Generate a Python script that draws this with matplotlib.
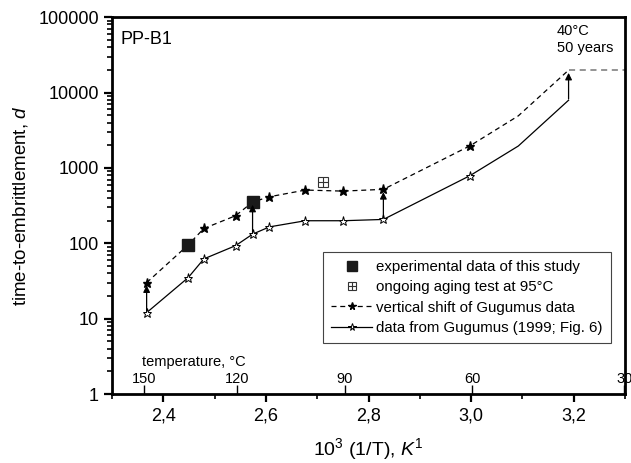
import numpy as np
import matplotlib
matplotlib.use("Agg")
import matplotlib.pyplot as plt
from matplotlib.legend_handler import HandlerTuple

plt.rcParams["font.family"] = ["Liberation Sans", "DejaVu Sans"]
plt.rcParams["mathtext.fontset"] = "custom"
plt.rcParams["mathtext.rm"] = "Liberation Sans"
plt.rcParams["mathtext.it"] = "Liberation Sans:italic"

# data (x = 10^3/T in 1/K, y = days)
x_gug = [2.3675, 2.4485, 2.479, 2.541, 2.574, 2.607, 2.677, 2.750, 2.829, 2.998, 3.092, 3.190]
y_gug = [12, 35, 62, 93, 132, 165, 199, 199, 207, 790, 1950, 7900]
gug_marks = [0, 1, 2, 3, 4, 5, 6, 7, 8, 9]

x_shift = [2.3675, 2.4485, 2.479, 2.541, 2.574, 2.607, 2.677, 2.750, 2.829, 2.998, 3.092, 3.190]
y_shift = [30, 95, 157, 232, 352, 414, 508, 492, 519, 1965, 4900, 19800]
shift_marks = [0, 2, 3, 5, 6, 7, 8, 9]

x_exp = [2.4485, 2.574]
y_exp = [95, 352]

x_ongoing = [2.711]
y_ongoing = [654]

x_plateau = [3.190, 3.30]
y_plateau = [19800, 19800]

arrow_idx = [0, 4, 8, 11]

temps_c = [150, 120, 90, 60, 30]


def main():
    fig = plt.figure(figsize=(6.31, 4.63), dpi=100)
    ax = fig.add_axes([0.1775, 0.149, 0.813, 0.814])

    ax.plot(x_plateau, y_plateau, ls=(0, (4, 3)), color="#777777", lw=1.1)
    h_gug, = ax.plot(x_gug, y_gug, "-", color="k", lw=0.9, marker="*", ms=6.5,
                     mfc="white", mec="k", mew=0.7, markevery=gug_marks)
    h_shift, = ax.plot(x_shift, y_shift, ls=(0, (4, 3)), color="k", lw=0.9,
                       marker="*", ms=6.5, mfc="k", mec="k", markevery=shift_marks)
    h_exp, = ax.plot(x_exp, y_exp, "s", color="#1a1a1a", ms=8.5)
    h_on1, = ax.plot(x_ongoing, y_ongoing, "s", mfc="white", mec="#333333", ms=7.5, mew=0.8)
    h_on2, = ax.plot(x_ongoing, y_ongoing, "+", color="#333333", ms=7.5, mew=0.8)

    for i in arrow_idx:
        ax.annotate("", xy=(x_shift[i], y_shift[i] * 0.92), xytext=(x_gug[i], y_gug[i] * 1.04),
                    arrowprops=dict(arrowstyle="-|>", color="k", lw=0.9,
                                    mutation_scale=10, shrinkA=0, shrinkB=0))

    ax.set_yscale("log")
    ax.set_xlim(2.3, 3.3)
    ax.set_ylim(1, 100000)
    ax.set_xticks([2.4, 2.6, 2.8, 3.0, 3.2])
    ax.set_xticklabels(["2,4", "2,6", "2,8", "3,0", "3,2"])
    ax.set_xticks([2.3, 2.5, 2.7, 2.9, 3.1, 3.3], minor=True)
    ax.set_yticks([1, 10, 100, 1000, 10000, 100000])
    ax.set_yticklabels(["1", "10", "100", "1000", "10000", "100000"])

    for s in ax.spines.values():
        s.set_linewidth(2)
    ax.tick_params(which="major", direction="out", length=6, width=1.6, labelsize=13,
                   top=False, right=False)
    ax.tick_params(which="minor", direction="out", length=3.5, width=1.2,
                   top=False, right=False)
    ax.tick_params(axis="x", which="major", pad=4)

    # temperature scale drawn inside along the bottom axis
    sec = ax.secondary_xaxis("bottom")
    sec.set_xticks([1000.0 / (t + 273.15) for t in temps_c])
    sec.set_xticklabels([str(t) for t in temps_c])
    sec.tick_params(direction="in", length=6.5, width=1.0, labelsize=10.5, pad=-16)
    sec.spines["bottom"].set_visible(False)
    sec.xaxis.set_minor_locator(matplotlib.ticker.NullLocator())

    ax.text(0.058, 0.085, "temperature, °C", transform=ax.transAxes, fontsize=10.5,
            ha="left", va="center")
    ax.text(0.016, 0.962, "PP-B1", transform=ax.transAxes, fontsize=13, ha="left", va="top")
    ax.text(0.867, 0.982, "40°C\n50 years", transform=ax.transAxes, fontsize=10.5,
            ha="left", va="top", linespacing=1.3)

    ax.set_xlabel(r"$10^3$ (1/T), $K^1$", fontsize=14, labelpad=8)
    ax.set_ylabel(r"time-to-embrittlement, $d$", fontsize=13.5, labelpad=6)

    leg = ax.legend([h_exp, (h_on1, h_on2), h_shift, h_gug],
                    ["experimental data of this study", "ongoing aging test at 95°C",
                     "vertical shift of Gugumus data", "data from Gugumus (1999; Fig. 6)"],
                    handler_map={tuple: HandlerTuple(ndivide=1, pad=0)},
                    loc="lower right", bbox_to_anchor=(0.973, 0.135), fontsize=10.8,
                    frameon=True, fancybox=False, edgecolor="#444444", framealpha=1,
                    handlelength=2.7, handletextpad=0.3, borderpad=0.55, labelspacing=0.42,
                    borderaxespad=0, markerscale=0.85)
    leg.get_frame().set_linewidth(0.8)

    fig.savefig("out.png", dpi=100)


if __name__ == "__main__":
    main()
